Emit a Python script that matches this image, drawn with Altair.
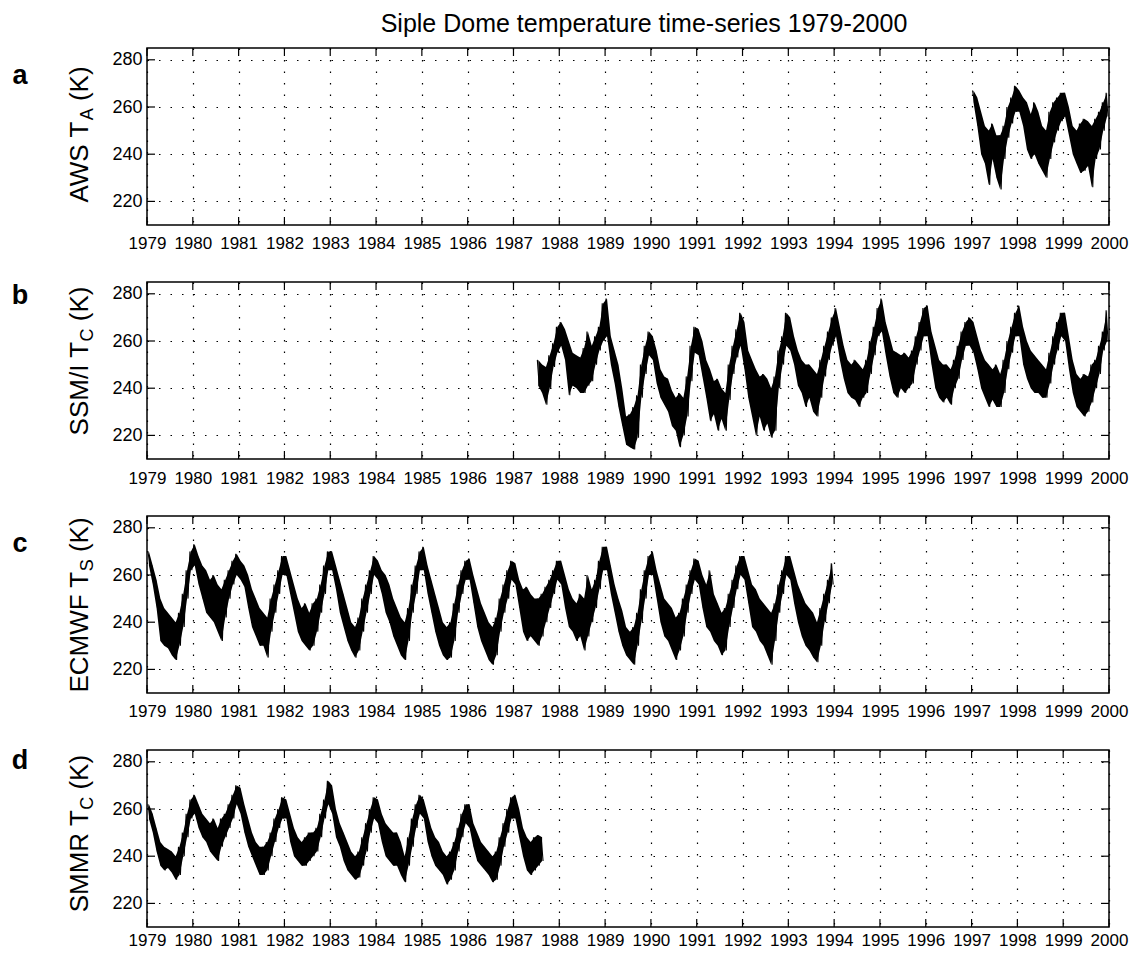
import altair as alt
import pandas as pd

TITLE = "Siple Dome temperature time-series 1979-2000"
YEARS = list(range(1979, 2001))
Y_TICKS = [220, 240, 260, 280]
X_DOMAIN = [1979, 2000]
Y_DOMAIN = [210, 285]

# ---- monthly high / low envelopes (K) ----
# a: AWS, Jan 1997 - Dec 1999
AWS_START = 1997.0
AWS_HI = [267, 264, 258, 252, 250, 253, 248, 248, 252, 260, 264, 269,
          267, 264, 262, 257, 262, 258, 252, 250, 258, 262, 264, 266,
          266, 260, 252, 250, 253, 255, 254, 252, 255, 258, 262, 266]
AWS_LO = [262, 252, 240, 236, 227, 238, 230, 225, 238, 247, 253, 258,
          258, 252, 242, 238, 240, 236, 233, 230, 238, 245, 250, 254,
          256, 248, 240, 236, 232, 233, 235, 226, 238, 242, 250, 256]

# b: SSM/I, Jul 1987 - Dec 1999
SSMI_START = 1987.5
SSMI_HI = [252, 250, 249, 254, 259, 266,
           268, 265, 260, 255, 254, 253, 257, 264, 258, 262, 266, 276,
           278, 262, 256, 250, 240, 228, 229, 232, 237, 250, 258, 264,
           262, 256, 248, 245, 244, 239, 236, 238, 236, 245, 258, 266,
           265, 260, 252, 248, 243, 244, 240, 238, 250, 258, 265, 272,
           268, 256, 252, 248, 245, 246, 244, 240, 245, 256, 262, 272,
           270, 262, 256, 252, 250, 250, 248, 246, 252, 258, 264, 270,
           274, 266, 258, 252, 250, 252, 250, 248, 252, 260, 266, 274,
           278, 268, 262, 256, 255, 254, 255, 253, 256, 262, 268, 274,
           275, 264, 258, 252, 250, 250, 248, 252, 258, 264, 268, 270,
           268, 262, 256, 252, 250, 248, 250, 246, 252, 260, 266, 272,
           275, 266, 260, 256, 254, 252, 250, 248, 255, 262, 268, 272,
           272, 262, 252, 246, 244, 246, 245, 250, 252, 258, 264, 273]
SSMI_LO = [241, 238, 233, 240, 249, 255,
           258, 252, 237, 241, 240, 238, 238, 241, 243, 250, 256, 260,
           262, 250, 242, 232, 224, 216, 215, 214, 219, 236, 246, 254,
           252, 242, 236, 233, 230, 224, 222, 215, 220, 228, 243, 255,
           254, 245, 236, 226, 229, 222, 227, 222, 235, 246, 253, 258,
           248, 236, 228, 220, 228, 222, 225, 219, 222, 240, 250, 258,
           256, 250, 241, 238, 232, 236, 230, 228, 236, 245, 252, 258,
           262, 252, 244, 238, 236, 235, 232, 236, 238, 246, 254, 262,
           264, 254, 245, 238, 236, 240, 238, 240, 242, 250, 256, 262,
           262, 250, 240, 236, 234, 236, 233, 240, 244, 252, 258, 258,
           255, 248, 240, 236, 232, 235, 232, 232, 238, 248, 255, 262,
           262, 250, 244, 240, 238, 238, 236, 236, 242, 250, 256, 262,
           260, 248, 238, 232, 230, 228, 230, 234, 240, 246, 256, 260]

# c: ECMWF, Jan 1979 - Dec 1993
ECMWF_START = 1979.0
ECMWF_HI = [270, 264, 258, 250, 246, 244, 242, 240, 244, 252, 262, 270,
            273, 268, 264, 262, 258, 260, 256, 254, 258, 262, 266, 269,
            266, 264, 260, 254, 250, 246, 244, 242, 250, 256, 262, 268,
            268, 262, 256, 250, 246, 248, 244, 248, 250, 256, 264, 270,
            270, 264, 258, 252, 246, 240, 238, 242, 250, 256, 262, 268,
            266, 262, 260, 256, 250, 246, 242, 240, 246, 256, 264, 270,
            272, 264, 258, 252, 246, 240, 238, 240, 248, 256, 262, 266,
            267, 260, 254, 248, 244, 240, 238, 242, 250, 256, 262, 266,
            265, 258, 254, 255, 252, 250, 250, 252, 255, 258, 262, 266,
            266, 260, 254, 250, 248, 252, 250, 260, 254, 258, 266, 272,
            272, 264, 256, 250, 245, 238, 236, 238, 244, 254, 262, 268,
            270, 262, 256, 250, 248, 246, 242, 244, 250, 256, 262, 267,
            266, 260, 256, 262, 252, 248, 244, 246, 252, 258, 264, 268,
            268, 262, 256, 254, 250, 248, 246, 244, 248, 256, 262, 268,
            268, 262, 256, 252, 248, 246, 244, 240, 246, 252, 258, 265]
ECMWF_LO = [264, 256, 246, 232, 230, 229, 226, 224, 230, 238, 250, 262,
            264, 256, 250, 244, 242, 240, 236, 232, 242, 250, 256, 260,
            258, 255, 246, 238, 234, 230, 230, 225, 236, 244, 252, 260,
            260, 252, 244, 236, 232, 230, 228, 230, 236, 244, 252, 262,
            262, 254, 244, 238, 232, 228, 225, 228, 236, 244, 252, 260,
            258, 252, 244, 240, 234, 230, 226, 224, 232, 244, 252, 262,
            262, 252, 244, 236, 230, 226, 224, 225, 232, 244, 252, 258,
            258, 248, 238, 232, 228, 224, 222, 226, 236, 244, 250, 258,
            256, 246, 236, 232, 234, 232, 230, 234, 240, 246, 252, 258,
            256, 246, 238, 236, 232, 234, 228, 234, 240, 246, 254, 262,
            262, 252, 244, 236, 230, 226, 224, 222, 230, 240, 250, 260,
            260, 250, 240, 234, 232, 228, 224, 228, 234, 244, 252, 258,
            256, 246, 238, 236, 232, 230, 226, 228, 238, 246, 254, 260,
            258, 248, 238, 236, 232, 230, 226, 222, 232, 244, 252, 260,
            258, 248, 240, 234, 230, 228, 225, 223, 230, 240, 248, 256]

# d: SMMR, Jan 1979 - Aug 1987
SMMR_START = 1979.0
SMMR_HI = [262, 258, 252, 246, 244, 243, 242, 240, 244, 250, 258, 264,
           266, 262, 258, 256, 254, 256, 252, 256, 258, 262, 266, 270,
           269, 262, 256, 250, 246, 244, 244, 246, 250, 256, 260, 265,
           264, 258, 252, 248, 246, 248, 250, 250, 252, 258, 264, 272,
           270, 260, 254, 250, 246, 242, 240, 242, 248, 254, 260, 265,
           264, 258, 254, 252, 250, 250, 246, 240, 248, 256, 262, 266,
           264, 258, 252, 248, 246, 242, 240, 242, 246, 252, 258, 262,
           262, 254, 250, 246, 244, 242, 240, 242, 248, 254, 260, 265,
           266, 260, 252, 248, 246, 248, 249, 248]
SMMR_LO = [256, 250, 242, 236, 234, 235, 233, 230, 232, 240, 248, 256,
           258, 252, 248, 246, 242, 240, 238, 244, 248, 252, 256, 262,
           258, 250, 244, 240, 236, 232, 232, 234, 240, 246, 252, 256,
           256, 246, 240, 238, 236, 236, 238, 240, 242, 248, 256, 262,
           258, 248, 244, 238, 234, 232, 230, 231, 236, 242, 250, 256,
           254, 246, 240, 238, 236, 236, 232, 229, 236, 244, 252, 258,
           256, 246, 240, 236, 234, 232, 228, 230, 234, 242, 248, 254,
           252, 244, 238, 236, 234, 232, 229, 230, 236, 244, 250, 256,
           256, 248, 240, 234, 232, 234, 236, 238]

PANEL_LABELS = ["a", "b", "c", "d"]
YTITLE_PARTS = [("AWS T", "A", "(K)"),
                ("SSM/I T", "C", "(K)"),
                ("ECMWF T", "S", "(K)"),
                ("SMMR T", "C", "(K)")]

# ---- layout / style (not data) ----
W, H = 962, 177
FONT = "Liberation Sans"
MAIN_FS, SUB_FS = 26, 18
TICK_LEN = 8
YTITLE_CENTER = [86.5, 79, 89, 83.6]
LABEL_BASE = [36, 22, 36, 19]
XLAB_PAD = [23, 24, 23, 18]

ARIAL_W = {"A": .667, "W": .944, "S": .667, " ": .278, "T": .611, "(": .333,
           "K": .667, ")": .333, "M": .833, "/": .278, "I": .278, "E": .667,
           "C": .722, "F": .611, "R": .722}


def text_width(s, fs):
    return sum(ARIAL_W.get(c, .6) for c in s) * fs


def series_frames(start, hi, lo):
    rows, band = [], []
    for i, (h, l) in enumerate(zip(hi, lo)):
        t0 = start + i / 12.0
        rows.append({"t": t0 + 0.25 / 12.0, "v": h})
        rows.append({"t": t0 + 0.75 / 12.0, "v": l})
        band.append({"t": t0 + 0.5 / 12.0, "v": l, "v2": h})
    return pd.DataFrame(rows), pd.DataFrame(band)


def text_layer(s, x, y, size, align="left", angle=0, bold=False):
    return alt.Chart(pd.DataFrame({"s": [s]})).mark_text(
        font=FONT, fontSize=size, align=align, baseline="alphabetic",
        angle=angle, color="black", fontWeight="bold" if bold else "normal"
    ).encode(text="s:N", x=alt.value(x), y=alt.value(y))


def panel(idx, dfl, dfb, with_title=False):
    xs = alt.Scale(domain=X_DOMAIN, nice=False, zero=False)
    ys = alt.Scale(domain=Y_DOMAIN, nice=False, zero=False)
    x = alt.X("t:Q", scale=xs, axis=alt.Axis(values=YEARS, format="d", title=None,
                                             grid=True, ticks=False, domain=False,
                                             labelFlush=False, labelBaseline="alphabetic",
                                             labelPadding=XLAB_PAD[idx]))
    y = alt.Y("v:Q", scale=ys, axis=alt.Axis(values=Y_TICKS, title=None, grid=True,
                                             ticks=False, domain=False, labelPadding=5))
    band = alt.Chart(dfb).mark_area(color="black", opacity=1).encode(
        x=x, y=y, y2="v2:Q")
    line = alt.Chart(dfl).mark_line(color="black", strokeWidth=1.1).encode(x=x, y=y)

    xt = pd.DataFrame({"t": YEARS})
    yt = pd.DataFrame({"v": Y_TICKS})
    tick_top = alt.Chart(xt).mark_rule(color="black", strokeWidth=1.2).encode(
        x=x, y=alt.value(0), y2=alt.value(TICK_LEN))
    tick_bot = alt.Chart(xt).mark_rule(color="black", strokeWidth=1.2).encode(
        x=x, y=alt.value(H - TICK_LEN), y2=alt.value(H))
    tick_left = alt.Chart(yt).mark_rule(color="black", strokeWidth=1.2).encode(
        y=y, x=alt.value(0), x2=alt.value(TICK_LEN))
    tick_right = alt.Chart(yt).mark_rule(color="black", strokeWidth=1.2).encode(
        y=y, x=alt.value(W - TICK_LEN), x2=alt.value(W))

    p1, p2, p3 = YTITLE_PARTS[idx]
    gap = text_width(" ", MAIN_FS)
    w1, w2, w3 = text_width(p1, MAIN_FS), text_width(p2, SUB_FS), text_width(p3, MAIN_FS)
    total = w1 + w2 + gap + w3
    y0 = YTITLE_CENTER[idx] + total / 2.0
    t1 = text_layer(p1, -59, y0, MAIN_FS, angle=270)
    t2 = text_layer(p2, -54, y0 - w1, SUB_FS, angle=270)
    t3 = text_layer(p3, -59, y0 - w1 - w2 - gap, MAIN_FS, angle=270)
    lab = text_layer(PANEL_LABELS[idx], -127, LABEL_BASE[idx], 27, align="center", bold=True)

    layers = [band, line, tick_top, tick_bot, tick_left, tick_right, t1, t2, t3, lab]
    if with_title:
        layers.append(text_layer(TITLE, 497, -16, 25, align="center"))
    return alt.layer(*layers).properties(width=W, height=H)


panels = []
for i, (st, hi, lo) in enumerate([(AWS_START, AWS_HI, AWS_LO),
                                   (SSMI_START, SSMI_HI, SSMI_LO),
                                   (ECMWF_START, ECMWF_HI, ECMWF_LO),
                                   (SMMR_START, SMMR_HI, SMMR_LO)]):
    dl, db = series_frames(st, hi, lo)
    panels.append(panel(i, dl, db, with_title=(i == 0)))

chart = alt.vconcat(*panels, spacing=57, bounds="flush").properties(
    padding={"left": 3, "top": 3, "right": 0, "bottom": 0}
).configure(font=FONT).configure_axis(
    labelFont=FONT, labelColor="black", gridColor="black", gridOpacity=1,
    gridDash=[1.5, 10], gridWidth=1.2
).configure_axisX(labelFontSize=17).configure_axisY(labelFontSize=18).configure_view(
    stroke="black", strokeWidth=1.5
)

chart.save("out.html", embed_options={"renderer": "svg", "actions": False})
